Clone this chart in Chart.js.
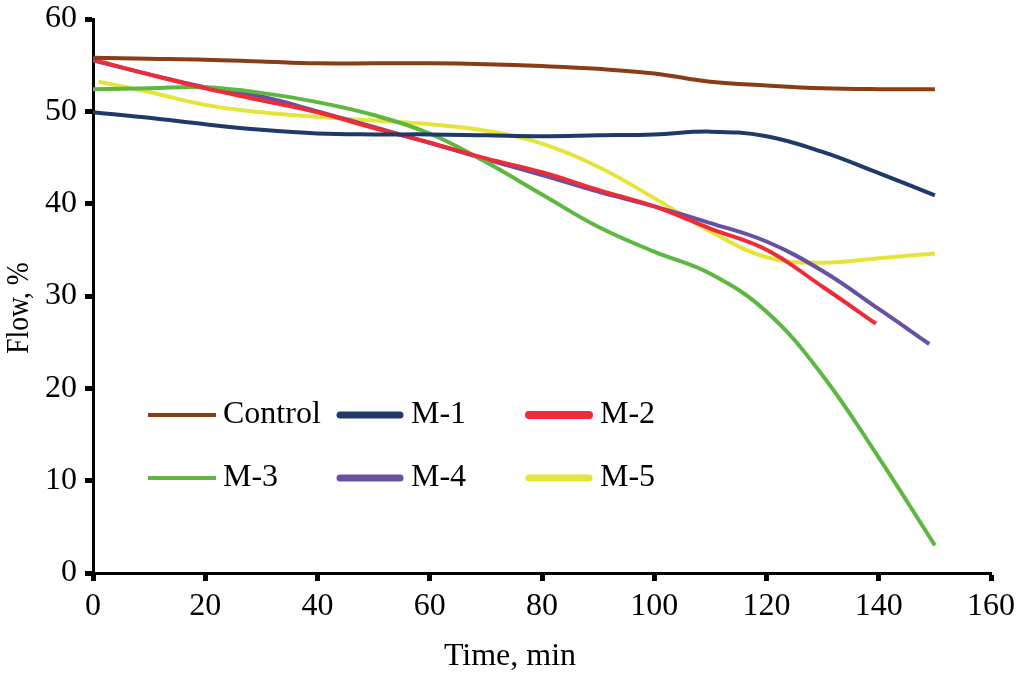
<!DOCTYPE html>
<html>
<head>
<meta charset="utf-8">
<script src="https://cdn.jsdelivr.net/npm/chart.js@4.4.1/dist/chart.umd.min.js"></script>
<style>
  html, body { margin: 0; padding: 0; background: #fff; }
  #wrap { width: 1021px; height: 678px; position: relative; }
</style>
</head>
<body>
<div id="wrap"><canvas id="flowChart"></canvas></div>
<script>
// time points (min)
const times   = [0, 10, 20, 30, 40, 50, 60, 70, 80, 90, 100, 110, 120, 130, 140, 150];
const timesM2 = [0, 10, 20, 30, 40, 50, 60, 70, 80, 90, 100, 110, 120, 130, 139.5];
const timesM4 = [0, 10, 20, 30, 40, 50, 60, 70, 80, 90, 100, 110, 120, 130, 140, 149];
const timesM5 = [1, 10, 20, 30, 40, 50, 60, 70, 80, 90, 100, 110, 120, 130, 140, 150];

// flow, %
const control = [55.8, 55.7, 55.6, 55.4, 55.2, 55.2, 55.2, 55.1, 54.9, 54.6, 54.1, 53.2, 52.8, 52.5, 52.4, 52.4];
const m1      = [49.9, 49.3, 48.6, 48.0, 47.6, 47.5, 47.5, 47.4, 47.3, 47.4, 47.5, 47.8, 47.3, 45.6, 43.3, 40.9];
const m2      = [55.6, 54.0, 52.5, 51.2, 49.9, 48.2, 46.6, 44.9, 43.4, 41.5, 39.7, 37.3, 35.0, 31.0, 27.0];
const m3      = [52.4, 52.5, 52.6, 52.0, 51.0, 49.6, 47.6, 44.5, 41.0, 37.5, 34.8, 32.4, 28.3, 21.4, 12.5, 3.0];
const m4      = [55.5, 54.0, 52.6, 51.6, 50.0, 48.3, 46.6, 44.8, 43.1, 41.3, 39.7, 37.9, 35.9, 32.7, 28.6, 24.8];
const m5      = [53.2, 52.1, 50.7, 49.9, 49.4, 49.0, 48.6, 47.9, 46.5, 44.0, 40.6, 37.0, 34.2, 33.6, 34.1, 34.6];

const seriesNames = ["Control", "M-1", "M-2", "M-3", "M-4", "M-5"];
const xTicks = [0, 20, 40, 60, 80, 100, 120, 140, 160];
const yTicks = [0, 10, 20, 30, 40, 50, 60];

const FONT = "'Liberation Serif', 'Times New Roman', serif";

function pts(xs, ys) {
    return ys.map((v, i) => ({ x: xs[i], y: v }));
}

function line(label, xs, ys, color, legendWidth) {
    return {
        label: label,
        data: pts(xs, ys),
        borderColor: color,
        backgroundColor: color,
        borderWidth: 4,
        pointRadius: 0,
        tension: 0.4,
        fill: false,
        legendWidth: legendWidth
    };
}

// legend drawn inside the plot, 3 columns x 2 rows
const insideLegend = {
    id: "insideLegend",
    afterDatasetsDraw(chart, args, opts) {
        const c = chart.ctx;
        const area = chart.chartArea;
        c.save();
        c.font = "32px " + FONT;
        c.textBaseline = "middle";
        c.fillStyle = "#000";
        chart.data.datasets.forEach((ds, i) => {
            const col = i % 3, row = Math.floor(i / 3);
            const round = ds.legendWidth > 5;
            const x0 = area.left + opts.colX[col] + (round ? 4 : 0);
            const x1 = area.left + opts.colX[col] + opts.sample - (round ? 4 : 0);
            const y0 = area.top + opts.rowY[row];
            c.strokeStyle = ds.borderColor;
            c.lineWidth = ds.legendWidth;
            c.lineCap = round ? "round" : "butt";
            c.beginPath();
            c.moveTo(x0, y0);
            c.lineTo(x1, y0);
            c.stroke();
            c.fillText(ds.label, area.left + opts.colX[col] + opts.sample + 7, y0);
        });
        c.restore();
    }
};

// axis titles placed like the original figure
const axisTitles = {
    id: "axisTitles",
    afterDraw(chart) {
        const c = chart.ctx;
        c.save();
        c.font = "32px " + FONT;
        c.fillStyle = "#000";
        c.textAlign = "center";
        c.textBaseline = "middle";
        c.fillText("Time, min", 510, 657);
        c.translate(20, 308);
        c.rotate(-Math.PI / 2);
        c.scale(0.86, 1);
        c.fillText("Flow, %", 0, 0);
        c.restore();
    }
};

new Chart(document.getElementById("flowChart"), {
    type: "line",
    data: {
        datasets: [
            line(seriesNames[0], times,   control, "#8a3c16", 4),
            line(seriesNames[1], times,   m1,      "#1f3a68", 7),
            line(seriesNames[2], timesM2, m2,      "#ee2b36", 8),
            line(seriesNames[3], times,   m3,      "#5db741", 4),
            line(seriesNames[4], timesM4, m4,      "#6651a3", 7),
            line(seriesNames[5], timesM5, m5,      "#e4e43a", 7)
        ]
    },
    options: {
        responsive: true,
        maintainAspectRatio: false,
        animation: false,
        layout: { padding: { top: 19, right: 30, left: 0, bottom: 0 } },
        plugins: {
            legend: { display: false },
            tooltip: { enabled: false },
            insideLegend: { colX: [55, 243, 432], rowY: [396, 459], sample: 68 }
        },
        scales: {
            x: {
                type: "linear",
                min: 0,
                max: 160,
                afterBuildTicks: s => { s.ticks = xTicks.map(v => ({ value: v })); },
                afterFit: s => { s.height = 105; },
                grid: { drawOnChartArea: false, color: "#000", tickLength: 8, tickWidth: 5 },
                border: { color: "#000", width: 3 },
                ticks: { color: "#000", padding: 6, maxRotation: 0, font: { family: FONT, size: 32 } }
            },
            y: {
                min: 0,
                max: 60,
                afterBuildTicks: s => { s.ticks = yTicks.map(v => ({ value: v })); },
                afterFit: s => { s.width = 93; s.paddingTop = 0; s.paddingBottom = 0; },
                grid: { drawOnChartArea: false, color: "#000", tickLength: 8, tickWidth: 5 },
                border: { color: "#000", width: 3 },
                ticks: { color: "#000", padding: 8, font: { family: FONT, size: 32 } }
            }
        }
    },
    plugins: [insideLegend, axisTitles]
});
</script>
</body>
</html>
